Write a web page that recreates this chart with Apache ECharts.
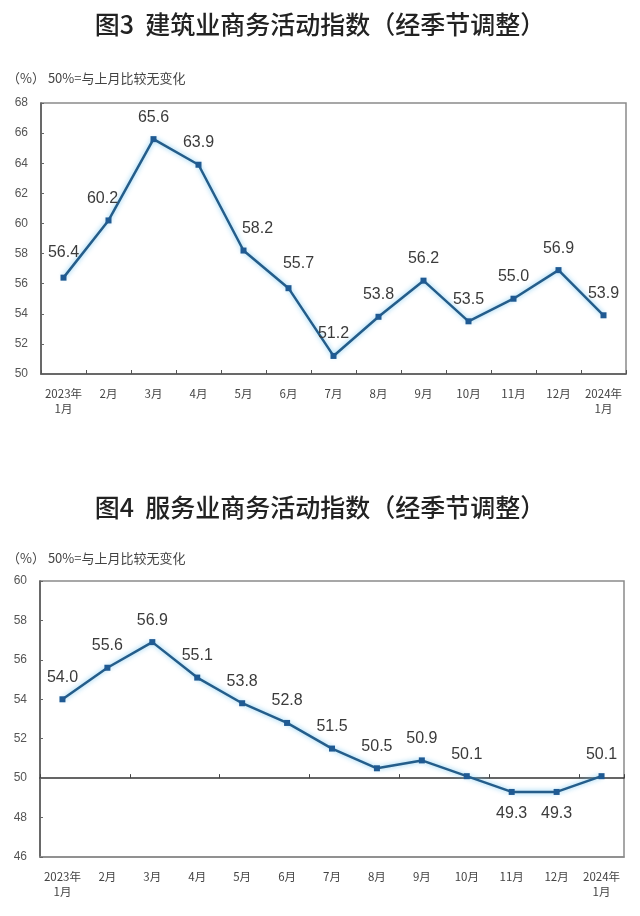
<!DOCTYPE html>
<html>
<head>
<meta charset="utf-8">
<script src="https://cdn.jsdelivr.net/npm/echarts@6/dist/echarts.min.js"></script>
<style>
html,body{margin:0;padding:0;background:#fff;}
#main{width:640px;height:916px;}
</style>
</head>
<body>
<div id="main"></div>
<script>
// ---- data ----
const categories = ['2023年\n1月','2月','3月','4月','5月','6月','7月','8月','9月','10月','11月','12月','2024年\n1月'];
const constructionValues = [56.4,60.2,65.6,63.9,58.2,55.7,51.2,53.8,56.2,53.5,55.0,56.9,53.9];
const servicesValues = [54.0,55.6,56.9,55.1,53.8,52.8,51.5,50.5,50.9,50.1,49.3,49.3,50.1];
const constructionAxis = [50,52,54,56,58,60,62,64,66,68];
const servicesAxis = [46,48,50,52,54,56,58,60];
const servicesBaseline = 50;
const title1 = '图3  建筑业商务活动指数（经季节调整）';
const title2 = '图4  服务业商务活动指数（经季节调整）';
const subtitle = '（%） 50%=与上月比较无变化';

// ---- label style tweaks (not data) ----
const labelShift1 = [[0,-3],[-6,0],[0,0],[0,0],[14,0],[10,-3],[0,0],[0,0],[0,0],[0,0],[0,0],[0,0],[0,0]];
const labelSide2 = ['top','top','top','top','top','top','top','top','top','top','bottom','bottom','top'];

const chart = echarts.init(document.getElementById('main'), null, {renderer:'canvas'});

const grid1 = {left:41, top:103, right:14, height:271};
const grid2 = {left:40, top:581, right:16, height:276};

const lineColor = '#245d8a';
const baseLabel = {fontSize:16, color:'#3b3b3b', fontFamily:'Liberation Sans, Arial, sans-serif', formatter: p => p.value.toFixed(1)};

function lineSeries(values, xi, yi, labelFn){
  return {
    type:'line', xAxisIndex:xi, yAxisIndex:yi,
    data: values.map((v,i)=>({value:v, label:labelFn(i)})),
    symbol:'rect', symbolSize:6,
    itemStyle:{color:'#1f5a93'},
    lineStyle:{color:lineColor, width:2.5, shadowColor:'rgba(110,195,240,0.9)', shadowBlur:5},
    label:Object.assign({show:true, position:'top', distance:11}, baseLabel),
    z:5
  };
}

function yAxis(gi, ticks){
  return {
    type:'value', gridIndex:gi, min:ticks[0], max:ticks[ticks.length-1], interval:ticks[1]-ticks[0],
    axisLine:{show:true, lineStyle:{color:'#555', width:1.5}},
    axisTick:{show:true, inside:true, length:3, lineStyle:{color:'#666'}},
    splitLine:{show:false},
    axisLabel:{fontSize:12, color:'#555', margin:13, fontFamily:'Liberation Sans, Arial, sans-serif'}
  };
}

const xLabel = {fontSize:11.5, color:'#444', margin:12, lineHeight:15, fontFamily:'Noto Sans CJK SC, sans-serif', interval:0};
const titleStyle = {fontSize:25, fontWeight:500, color:'#222', fontFamily:'Noto Sans CJK SC'};
const subStyle = {fontSize:13, fontWeight:'normal', color:'#444', fontFamily:'Noto Sans CJK SC'};

const option = {
  backgroundColor:'#fff',
  animation:false,
  title:[
    {text:title1, left:'center', top:7, textStyle:titleStyle},
    {text:subtitle, left:2, top:67, textStyle:subStyle},
    {text:title2, left:'center', top:490, textStyle:titleStyle},
    {text:subtitle, left:2, top:547, textStyle:subStyle}
  ],
  grid:[
    Object.assign({show:true, borderColor:'#8a8a8a', borderWidth:1.5, backgroundColor:'#fff'}, grid1),
    Object.assign({show:true, borderColor:'#8a8a8a', borderWidth:1.5, backgroundColor:'#fff'}, grid2)
  ],
  xAxis:[
    {type:'category', gridIndex:0, data:categories, boundaryGap:true,
     axisLine:{show:true, lineStyle:{color:'#555', width:1.5}},
     axisTick:{show:true, inside:true, length:4, lineStyle:{color:'#555'}},
     axisLabel:xLabel},
    {type:'category', gridIndex:1, data:categories, boundaryGap:true,
     axisLine:{show:true, lineStyle:{color:'#8a8a8a', width:1.5}},
     axisTick:{show:false},
     axisLabel:xLabel},
    {type:'category', gridIndex:1, data:categories, boundaryGap:true, position:'bottom',
     offset: -grid2.height*(servicesBaseline-servicesAxis[0])/(servicesAxis[servicesAxis.length-1]-servicesAxis[0]),
     axisLine:{show:true, lineStyle:{color:'#333', width:1.5}},
     axisTick:{show:true, inside:true, length:4, lineStyle:{color:'#444'}},
     axisLabel:{show:false}}
  ],
  yAxis:[ yAxis(0, constructionAxis), yAxis(1, servicesAxis) ],
  series:[
    lineSeries(constructionValues, 0, 0, i => ({offset:labelShift1[i]})),
    lineSeries(servicesValues, 1, 1, i => ({position:labelSide2[i]}))
  ]
};
chart.setOption(option);
</script>
</body>
</html>
